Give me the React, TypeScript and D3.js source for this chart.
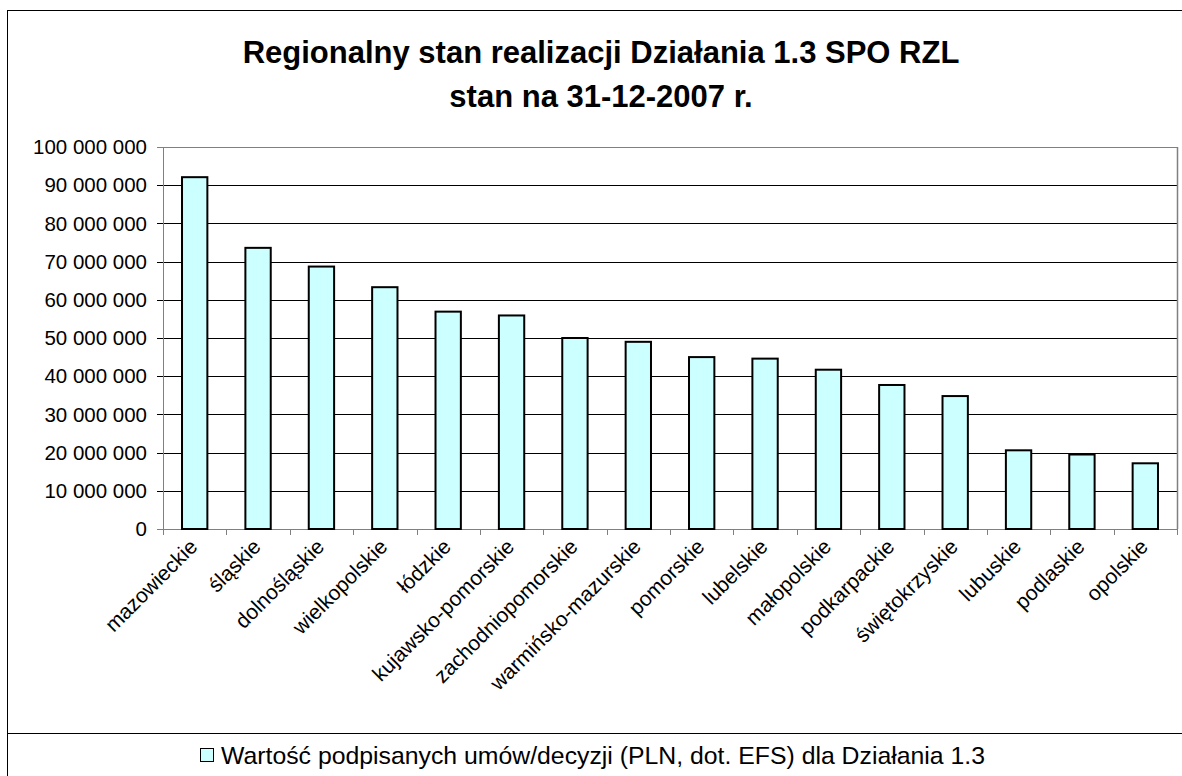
import React from "react";
import * as d3 from "d3";

const regions = [
  "mazowieckie", "śląskie", "dolnośląskie", "wielkopolskie", "łódzkie",
  "kujawsko-pomorskie", "zachodniopomorskie", "warmińsko-mazurskie", "pomorskie",
  "lubelskie", "małopolskie", "podkarpackie", "świętokrzyskie", "lubuskie",
  "podlaskie", "opolskie",
];
const values = [
  92100000, 73600000, 68700000, 63300000, 56900000, 55900000, 50000000, 49000000,
  45000000, 44600000, 41700000, 37700000, 34800000, 20600000, 19500000, 17200000,
];
const yTicks = [0, 10000000, 20000000, 30000000, 40000000, 50000000, 60000000, 70000000, 80000000, 90000000, 100000000];
const titleLines = ["Regionalny stan realizacji Działania 1.3 SPO RZL", "stan na 31-12-2007 r."];
const legendLabel = "Wartość podpisanych umów/decyzji (PLN, dot. EFS) dla Działania 1.3";

const W = 1182, H = 776;
const plot = { left: 163, right: 1177, top: 147, bottom: 529 };
const FONT = "'Liberation Sans', Arial, sans-serif";

const fmt = (v: number) => d3.format(",")(v).replace(/,/g, " ");

export default function App() {
  const x = d3.scaleBand<string>().domain(regions).range([plot.left, plot.right]).paddingInner(0.6).paddingOuter(0.3);
  const band = d3.scaleBand<string>().domain(regions).range([plot.left, plot.right]);
  const y = d3.scaleLinear().domain([0, 100000000]).range([plot.bottom, plot.top]);
  const cx = 601;
  return (
    <svg width={W} height={H} style={{ position: "absolute", left: 0, top: 0, background: "#fff" }} fontFamily={FONT}>
      <rect x={7.5} y={10.5} width={W + 10} height={H + 10} fill="#fff" stroke="#000" strokeWidth={1} />
      {titleLines.map((t, i) => (
        <text key={i} x={cx} y={63 + i * 44} textAnchor="middle" fontWeight="bold" fontSize={31} fill="#000">{t}</text>
      ))}
      {yTicks.map((t) => (
        <line key={t} x1={plot.left - 6} x2={plot.right} y1={Math.round(y(t)) + 0.5} y2={Math.round(y(t)) + 0.5}
          stroke={t === 0 || t === 100000000 ? "#808080" : "#000"} strokeWidth={1} />
      ))}
      <line x1={plot.right + 0.5} x2={plot.right + 0.5} y1={plot.top} y2={plot.bottom} stroke="#808080" strokeWidth={1.5} />
      <line x1={plot.left + 0.5} x2={plot.left + 0.5} y1={plot.top} y2={plot.bottom + 6} stroke="#808080" strokeWidth={1} />
      {regions.map((r, i) => (
        <line key={"t" + i} x1={Math.round(band(r)! + band.bandwidth()) + 0.5} x2={Math.round(band(r)! + band.bandwidth()) + 0.5}
          y1={plot.bottom} y2={plot.bottom + 6} stroke="#808080" strokeWidth={1} />
      ))}
      {yTicks.map((t) => (
        <text key={"l" + t} x={147} y={y(t)} dy="0.35em" textAnchor="end" fontSize={20.5} fill="#000">{fmt(t)}</text>
      ))}
      {regions.map((r, i) => (
        <rect key={r} x={x(r)!} y={y(values[i])} width={x.bandwidth()} height={plot.bottom - y(values[i])}
          fill="#CCFFFF" stroke="#000" strokeWidth={2} />
      ))}
      {regions.map((r) => {
        const px = band(r)! + band.bandwidth() / 2 + 4;
        const py = plot.bottom + 19;
        return (
          <text key={"x" + r} x={px} y={py} textAnchor="end" fontSize={21} fill="#000"
            transform={`rotate(-45, ${px}, ${py})`}>{r}</text>
        );
      })}
      <line x1={7} x2={W} y1={733.5} y2={733.5} stroke="#000" strokeWidth={1} />
      <rect x={200.5} y={748.5} width={13} height={13} fill="#CCFFFF" stroke="#000" strokeWidth={1} />
      <text x={221} y={764} fontSize={24.8} fill="#000">{legendLabel}</text>
    </svg>
  );
}
